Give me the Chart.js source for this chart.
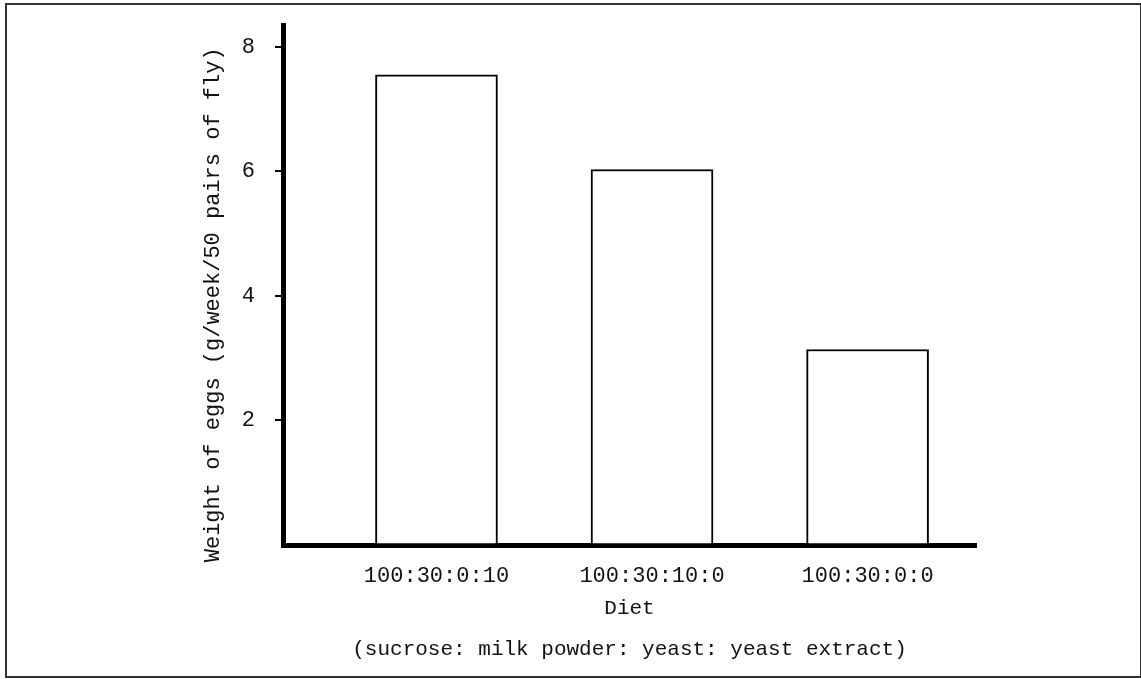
<!DOCTYPE html>
<html>
<head>
<meta charset="utf-8">
<script src="https://cdn.jsdelivr.net/npm/chart.js@4/dist/chart.umd.min.js"></script>
<style>
  body { margin: 0; background: #fff; }
  #frame { position: absolute; left: 5px; top: 3px; width: 1133px; height: 671px; border: 2px solid #333; }
  #myChart { position: absolute; left: 0; top: 0; }
</style>
</head>
<body>
<div id="frame"></div>
<canvas id="myChart" width="1141" height="679"></canvas>
<script>
// diet ratios (sucrose : milk powder : yeast : yeast extract)
const diets = ['100:30:0:10', '100:30:10:0', '100:30:0:0'];
const dietPos = [1, 2, 3];
const eggWeight = [7.55, 6.03, 3.14];
const yTicks = [2, 4, 6, 8];

const mono = "'Liberation Mono', 'DejaVu Sans Mono', monospace";

const ctx = document.getElementById('myChart');

new Chart(ctx, {
    type: 'bar',
    data: {
        datasets: [{
            label: 'Weight of eggs',
            data: dietPos.map((p, i) => ({ x: p, y: eggWeight[i] })),
            backgroundColor: '#fff',
            borderColor: '#000',
            borderWidth: 2,
            borderSkipped: false,
            barThickness: 122
        }]
    },
    options: {
        responsive: false,
        animation: false,
        layout: { padding: { top: 25, right: 165, bottom: 9, left: 196 } },
        plugins: {
            legend: { display: false },
            tooltip: { enabled: false }
        },
        scales: {
            x: {
                type: 'linear',
                offset: false,
                min: 0.288,
                max: 3.503,
                afterBuildTicks: (s) => { s.ticks = dietPos.map(v => ({ value: v })); },
                afterFit: (s) => { s.height = 125; s.paddingLeft = 0; s.paddingRight = 0; },
                grid: { display: false, drawTicks: false, offset: false },
                border: { display: true, color: '#000', width: 5 },
                ticks: {
                    padding: 18,
                    color: '#111',
                    font: { family: mono, size: 22 },
                    callback: (v) => diets[dietPos.indexOf(v)] ?? ''
                },
                title: {
                    display: true,
                    text: ['Diet', '(sucrose: milk powder: yeast: yeast extract)'],
                    color: '#111',
                    font: { family: mono, size: 21, lineHeight: 1.95 },
                    padding: 0
                }
            },
            y: {
                min: 0,
                max: 8.35,
                afterBuildTicks: (s) => { s.ticks = yTicks.map(v => ({ value: v })); },
                afterFit: (s) => { s.width = 87; s.paddingTop = 0; s.paddingBottom = 0; },
                grid: { drawOnChartArea: false, drawTicks: true, tickLength: 8, color: '#000', lineWidth: 2 },
                border: { display: true, color: '#000', width: 5 },
                ticks: {
                    padding: 20,
                    color: '#111',
                    font: { family: mono, size: 22 }
                },
                title: {
                    display: true,
                    text: 'Weight of eggs (g/week/50 pairs of fly)   ',
                    color: '#111',
                    font: { family: mono, size: 22 },
                    padding: 4
                }
            }
        }
    }
});
</script>
</body>
</html>
